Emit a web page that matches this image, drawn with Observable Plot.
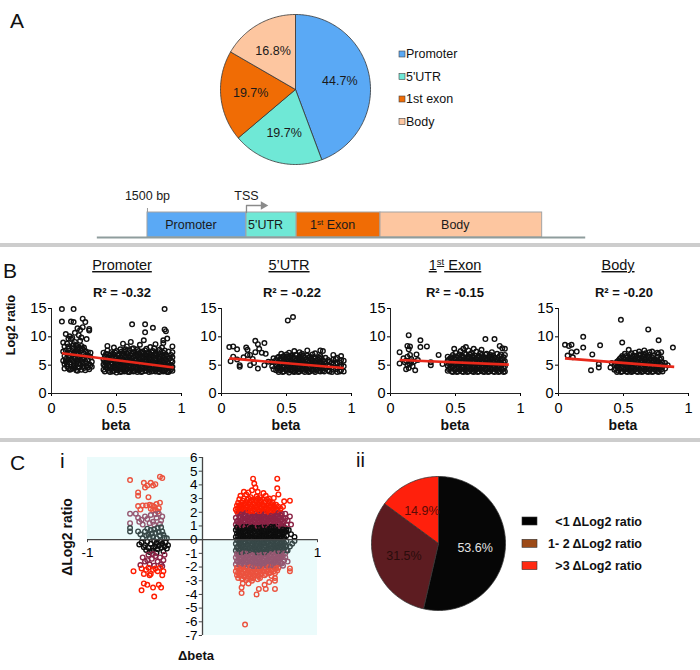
<!DOCTYPE html>
<html><head><meta charset="utf-8">
<script src="https://cdn.jsdelivr.net/npm/d3@7"></script>
<script src="https://cdn.jsdelivr.net/npm/@observablehq/plot@0.6"></script>
<style>
body{margin:0;background:#fff;}
#fig{position:relative;width:700px;height:670px;background:#fff;overflow:hidden;font-family:"Liberation Sans",Arial,Helvetica,sans-serif;}
</style></head><body><div id="fig"></div>
<script>
// ---------------- Panel A: pie of CpG locations ----------------
const regionNames = ["Promoter", "5'UTR", "1st exon", "Body"];
const regionShares = [44.7, 19.7, 19.7, 16.8];
const regionColors = ["#5aa9f5", "#6fe8d6", "#f06c05", "#fdc6a0"];

// ---------------- Gene schematic (bp relative to TSS) ----------------
const geneParts = ["Promoter", "5'UTR", "1st Exon", "Body"];
const geneStartBp = [-1500, 0, 760, 2030];
const geneEndBp = [0, 760, 2030, 4480];
const geneLineBp = [-2260, 5140];
const geneMarkLabels = ["1500 bp", "TSS"];
const geneMarkBp = [-1500, 0];

// ---------------- Panel B: beta vs Log2 ratio ----------------
const panelTitles = ["Promoter", "5’UTR", "1st Exon", "Body"];
const rSquared = ["-0.32", "-0.22", "-0.15", "-0.20"];
const trendBetaStart = [0.08, 0.06, 0.07, 0.05];
const trendLogStart = [7.1, 6.2, 5.9, 6.2];
const trendBetaEnd = [0.94, 0.94, 0.91, 0.89];
const trendLogEnd = [4.6, 4.5, 5.1, 4.7];
const betaTicks = [0, 0.5, 1];
const log2Ticks = [0, 5, 10, 15];

// points as [beta, log2 ratio]; columns as [beta, [log2 ratios...]]
const promoterPoints = [[0.08,14.9],[0.17,14.9],[0.08,12.7],[0.15,12.7],[0.17,12.6],[0.24,13.2],[0.26,12.6],[0.29,11.4],[0.29,11.1],[0.20,11.5],[0.22,11.2],[0.24,11.7],[0.11,10.5],[0.14,10.1],[0.18,10.7],[0.21,10.3],[0.15,9.6],[0.13,9.7],[0.62,12.2],[0.72,12.2],[0.78,11.6],[0.87,14.9],[0.87,11.3],[0.88,11.0],[0.72,10.8],[0.89,9.7],[0.86,9.4],
[0.09,9.0],[0.10,8.3],[0.09,7.4],[0.10,6.6],[0.09,5.8],[0.10,5.2],[0.12,4.8],[0.11,6.1],[0.12,7.0],[0.12,8.8],[0.13,7.9],[0.14,6.4],[0.14,5.5],[0.15,4.3],[0.15,7.3],[0.16,8.4],[0.16,6.8],[0.16,5.9],[0.17,4.9],[0.17,8.0],[0.18,7.4],[0.18,9.1],[0.18,6.2],[0.19,5.3],[0.19,4.1],[0.19,8.5],[0.20,7.8],[0.20,6.9],[0.20,5.8],[0.21,4.6],[0.21,8.2],[0.21,7.2],[0.22,6.5],[0.22,5.1],[0.22,9.3],[0.23,4.2],[0.23,7.6],[0.23,8.4],[0.24,6.1],[0.24,5.4],[0.25,4.5],[0.25,7.0],[0.25,8.1],[0.26,6.6],[0.26,5.7],[0.27,4.8],[0.27,9.6],[0.28,6.0],[0.28,7.3],[0.29,5.2],[0.29,4.3],[0.30,6.4],[0.30,7.2],[0.31,5.6],[0.31,4.7],[0.13,4.4],[0.11,7.6],[0.17,5.6],[0.19,7.0],[0.24,7.9],[0.20,4.0],[0.26,4.1],[0.16,9.8],[0.23,9.9],
[0.10,4.4],[0.11,5.6],[0.13,6.0],[0.14,7.1],[0.15,5.9],[0.17,7.0],[0.18,4.5],[0.18,5.0],[0.20,6.4],[0.21,5.4],[0.22,7.9],[0.23,5.7],[0.24,4.7],[0.25,6.3],[0.26,7.5],[0.27,5.3],[0.28,4.6],[0.28,6.7],[0.30,5.0],[0.13,8.3],[0.17,8.7],[0.19,7.6],[0.21,6.1],[0.16,4.5],[0.12,5.2],[0.14,4.2]];
const promoterColumns = [[0.40,[4.2,5.1,6.0,7.2]],[0.41,[3.9,4.8,5.6,6.6]],[0.43,[4.4,5.3,6.3,7.6,8.4]],[0.45,[3.8,4.7,5.9,6.8]],[0.46,[4.3,5.5,6.4,7.3]],[0.48,[4.0,4.9,5.8,6.9,8.1]],[0.50,[3.7,4.5,5.3,6.2,7.5]],[0.51,[4.1,5.0,5.9,6.7]],[0.53,[3.8,4.6,5.5,6.4,7.8]],[0.55,[4.2,5.1,6.0,7.0,8.8]],[0.56,[3.9,4.7,5.6,6.5,7.4]],[0.58,[4.3,5.2,6.1,7.1,8.3]],[0.60,[3.8,4.6,5.4,6.3,7.6]],[0.61,[4.1,5.0,5.8,6.8,9.1]],[0.63,[3.9,4.7,5.5,6.4,7.3,8.0]],[0.65,[4.3,5.2,6.0,7.0]],[0.66,[3.8,4.6,5.5,6.6,7.8]],[0.68,[4.2,5.0,5.9,6.8,8.6]],[0.70,[3.9,4.8,5.7,6.5,7.4]],[0.71,[4.4,5.3,6.2,7.1,9.4]],[0.73,[4.0,4.9,5.8,6.7,7.9]],[0.75,[3.8,4.6,5.5,6.3,7.2]],[0.76,[4.3,5.1,6.0,6.9,8.2]],[0.78,[4.0,4.8,5.7,6.6,7.5]],[0.80,[3.9,4.5,5.4,6.2,7.1,8.7]],[0.81,[4.2,5.0,5.9,6.8]],[0.83,[3.8,4.7,5.6,6.5,7.7]],[0.85,[4.1,4.9,5.8,6.7,8.1]],[0.86,[3.9,4.6,5.4,6.3,7.2,8.9]],[0.88,[4.3,5.1,6.0,6.9]],[0.90,[3.8,4.5,5.3,7.4]],[0.91,[4.0,4.8,6.2]],[0.93,[4.0,4.7,5.6,6.4,7.3,8.3]],
[0.42,[4.6,5.5,6.5,7.0]],[0.44,[4.0,4.9,5.8,6.2]],[0.47,[3.9,4.6,5.2,6.1,7.0]],[0.49,[4.4,5.4,6.4,7.2]],[0.52,[4.3,5.0,5.7,6.9]],[0.54,[3.9,4.8,5.8,6.7,7.4]],[0.57,[4.0,4.4,5.4,6.3,7.8]],[0.59,[3.8,4.8,5.7,6.6,7.3]],[0.62,[4.4,5.2,6.1,7.0,7.9]],[0.64,[4.0,5.0,5.9,6.8]],[0.67,[4.1,5.1,6.1,7.1,7.5]],[0.69,[3.8,4.6,5.5,6.3,7.2]],[0.72,[4.0,4.8,5.7,6.5,7.6]],[0.74,[4.4,5.3,6.2,7.0]],[0.77,[3.9,4.7,5.6,6.4,7.3]],[0.79,[4.3,5.2,6.0,6.9,8.0]],[0.82,[3.9,4.6,5.5,6.3,7.3]],[0.84,[4.3,5.2,6.1,7.0]],[0.87,[4.1,5.0,5.9,6.7,7.6]],[0.89,[3.8,4.7,5.6,6.5]],[0.92,[4.3,5.0,5.8,6.8]]];

const utrPoints = [[0.06,8.2],[0.09,8.3],[0.12,7.8],[0.19,8.1],[0.20,7.7],[0.20,6.8],[0.22,6.8],[0.14,5.0],[0.22,5.0],[0.26,7.3],[0.26,9.3],[0.28,8.7],[0.33,8.9],[0.29,7.9],[0.31,7.2],[0.34,7.0],[0.09,6.5],[0.07,5.7],[0.17,6.4],[0.25,5.4],[0.28,4.4],[0.33,5.0],[0.14,4.7],[0.51,12.9],[0.55,13.5],[0.24,6.1],[0.12,6.0],[0.36,5.6],[0.39,4.8],[0.39,5.6],[0.40,4.3],[0.40,6.2]];
const utrColumns = [[0.42,[4.1,5.0,5.9]],[0.44,[3.8,4.6,5.5,6.5]],[0.46,[4.3,5.2,6.1,7.0]],[0.48,[3.9,4.8,5.7,6.6]],[0.50,[4.2,5.0,5.9,6.9]],[0.52,[3.7,4.6,5.4,6.3,7.2]],[0.54,[4.1,4.9,5.8,6.7]],[0.56,[3.8,4.5,5.3,6.2,7.5]],[0.58,[4.2,5.1,6.0,6.8]],[0.60,[3.9,4.7,5.5,6.4,7.3]],[0.62,[4.3,5.2,6.1,7.0]],[0.64,[3.8,4.6,5.4,6.3]],[0.66,[4.1,5.0,5.8,6.7,7.6]],[0.68,[3.9,4.7,5.6,6.5]],[0.70,[4.2,5.1,5.9,6.9]],[0.72,[3.8,4.6,5.4,6.2,7.1]],[0.74,[4.3,5.2,6.0]],[0.76,[3.9,4.8,5.7,6.6,7.6]],[0.78,[4.1,5.0,5.8,7.5]],[0.80,[4.4,5.3,6.3]],[0.83,[3.9,4.8,5.6]],[0.86,[4.2,5.1,6.0,6.8]],[0.89,[3.8,4.6,5.4,6.3]],[0.92,[4.1,5.0,5.9,6.6]],[0.94,[3.9,4.8,5.8]],
[0.43,[4.5,5.4,6.3]],[0.45,[4.1,5.0,6.0]],[0.47,[3.8,4.7,5.6,6.5]],[0.49,[4.3,5.3,6.2]],[0.51,[4.0,4.8,5.6,6.5]],[0.53,[4.2,5.0,5.9,6.7]],[0.55,[3.9,4.7,5.5,6.4]],[0.57,[4.1,4.9,5.8,6.8]],[0.59,[3.8,4.6,5.5,6.3]],[0.61,[4.2,5.1,6.0,6.8]],[0.63,[4.0,4.8,5.7,6.6]],[0.65,[4.3,5.1,6.0]],[0.67,[3.8,4.6,5.4,6.3]],[0.69,[4.2,5.1,6.1]],[0.71,[4.0,4.8,5.6,6.4]],[0.73,[4.2,5.0,5.8]],[0.75,[4.0,4.8,5.6,6.3]],[0.77,[4.4,5.3,6.2]],[0.79,[3.9,4.7,5.6]],[0.82,[4.1,5.0,5.9]],[0.85,[3.8,4.6,5.5]],[0.88,[4.3,5.2,6.1]],[0.91,[3.9,4.7,5.5]]];

const exonPoints = [[0.07,7.3],[0.07,5.3],[0.14,10.3],[0.13,8.4],[0.15,8.3],[0.14,7.8],[0.23,9.4],[0.23,8.2],[0.28,8.3],[0.19,4.1],[0.12,5.8],[0.14,4.5],[0.15,5.2],[0.16,6.1],[0.13,6.5],[0.17,4.8],[0.12,4.3],[0.18,5.6],[0.20,6.9],[0.10,6.2],[0.16,5.7],[0.13,5.0],[0.15,6.8],[0.21,5.9],[0.11,5.5],[0.73,9.6],[0.80,9.6],[0.84,8.4],[0.86,8.0],[0.49,7.9],[0.58,8.2],[0.64,7.9],[0.37,6.8],[0.31,5.0],[0.31,5.5],[0.40,5.2]];
const exonColumns = [[0.44,[4.0,4.9,5.8,6.5]],[0.46,[4.4,5.3,6.2]],[0.48,[3.8,4.7,5.6,6.8]],[0.50,[4.2,5.1,6.0,7.2]],[0.52,[3.9,4.8,5.7,6.6]],[0.54,[4.3,5.2,6.1,7.5]],[0.56,[3.8,4.6,5.5,6.4,7.9]],[0.58,[4.1,5.0,5.9,6.9]],[0.60,[3.9,4.7,5.6,6.5,7.6]],[0.62,[4.2,5.1,6.0,7.1]],[0.64,[3.8,4.6,5.4,6.3]],[0.66,[4.3,5.2,6.1,7.4]],[0.68,[3.9,4.8,5.7,6.6]],[0.70,[4.1,5.0,5.8,6.8,7.7]],[0.72,[3.8,4.7,5.5,6.4]],[0.74,[4.2,5.1,6.0,7.0]],[0.76,[3.9,4.8,5.6,6.5]],[0.78,[4.3,5.2,6.2,7.3]],[0.80,[3.8,4.6,5.4,6.3]],[0.82,[4.1,5.0,5.9,7.0]],[0.84,[3.9,4.7,5.6,6.6]],[0.86,[4.2,5.1,6.1]],[0.88,[3.9,4.8,5.7,6.8,7.9]],
[0.45,[4.3,5.2,6.0]],[0.47,[3.9,4.8,5.7,6.4]],[0.49,[4.3,5.2,6.2]],[0.51,[3.8,4.6,5.5,6.4]],[0.53,[4.2,5.1,6.0,6.9]],[0.55,[3.9,4.8,5.7,6.6]],[0.57,[4.3,5.2,6.1,7.1]],[0.59,[3.8,4.6,5.4,6.3]],[0.61,[4.3,5.2,6.1,6.9]],[0.63,[3.9,4.8,5.7,6.6]],[0.65,[4.1,5.0,5.8,6.7]],[0.67,[3.8,4.6,5.5,6.4]],[0.69,[4.3,5.2,6.1,7.1]],[0.71,[3.9,4.7,5.5,6.3]],[0.73,[4.3,5.2,6.1,6.9]],[0.75,[3.8,4.6,5.5,6.4]],[0.77,[4.2,5.1,6.0,6.8]],[0.79,[3.9,4.8,5.7,6.7]],[0.81,[4.3,5.2,6.1]],[0.83,[3.8,4.6,5.4,6.3]],[0.85,[4.3,5.2,6.0,6.9]],[0.87,[3.8,4.6,5.5,6.4]]];

const bodyPoints = [[0.05,8.6],[0.08,8.4],[0.10,8.6],[0.10,7.3],[0.14,7.4],[0.07,6.7],[0.11,6.4],[0.19,10.0],[0.19,8.1],[0.26,6.9],[0.32,8.5],[0.25,4.1],[0.31,5.2],[0.31,4.6],[0.48,13.0],[0.49,9.0],[0.69,11.3],[0.77,9.4],[0.88,8.1],[0.54,7.7],[0.62,7.4],[0.66,7.6],[0.70,7.3],[0.72,7.4],[0.76,7.2],[0.79,7.3],[0.84,5.0],[0.40,4.6],[0.41,5.4]];
const bodyColumns = [[0.43,[4.2,5.0]],[0.45,[3.8,4.7,5.6]],[0.47,[4.3,5.2,6.1]],[0.49,[3.9,4.8,5.7,6.6]],[0.51,[4.2,5.1,6.0,7.0]],[0.53,[3.8,4.6,5.5,6.4]],[0.55,[4.1,5.0,5.9,6.8]],[0.57,[3.9,4.7,5.6,6.5]],[0.59,[4.3,5.2,6.1,7.2]],[0.61,[3.8,4.6,5.5,6.3]],[0.63,[4.1,5.0,5.8,6.9]],[0.65,[3.9,4.8,5.7,6.6]],[0.67,[4.2,5.1,6.0,7.1]],[0.69,[3.8,4.7,5.5,6.4]],[0.71,[4.3,5.2,6.1]],[0.73,[3.9,4.8,5.7,6.7]],[0.75,[4.1,5.0,5.9]],[0.77,[3.8,4.6,5.6,7.0]],[0.79,[4.2,5.1,6.2]],[0.82,[4.4,5.4]],
[0.44,[4.4,5.3]],[0.46,[4.0,4.9,5.8]],[0.48,[3.8,4.6,5.5,6.3]],[0.50,[4.4,5.3,6.2]],[0.52,[3.9,4.8,5.7,6.6]],[0.54,[4.3,5.2,6.1]],[0.56,[3.8,4.6,5.4,6.3,7.1]],[0.58,[4.1,5.0,5.9,6.7]],[0.60,[3.9,4.8,5.7,6.6]],[0.62,[4.3,5.2,6.1,6.9]],[0.64,[3.8,4.6,5.4,6.3]],[0.66,[4.2,5.1,6.0,6.8]],[0.68,[3.9,4.8,5.7,6.6]],[0.70,[4.2,5.0,5.9,6.8]],[0.72,[3.8,4.6,5.5,6.4]],[0.74,[4.3,5.2,6.1]],[0.76,[3.9,4.8,5.7,6.5]],[0.78,[4.3,5.2,6.0]],[0.80,[3.9,4.7,5.5]]];

// ---------------- Panel C i: delta beta vs delta Log2 ratio ----------------
const dLogTicks = [-7,-6,-5,-4,-3,-2,-1,0,1,2,3,4,5,6];
const dBetaTicks = [-1, 1];
const bandNames = ["<1", "1-2", ">2"];
const bandColors = ["#0e0e0e", "#8c2446", "#ff1c00"];
const ciLeftPoints = [[-0.63,4.35],[-0.51,4.15],[-0.48,3.95],[-0.45,4.15],[-0.43,3.95],[-0.41,4.05],[-0.37,4.6],[-0.35,4.5],[-0.50,3.8],[-0.56,3.45],[-0.56,3.2],[-0.47,3.1],
[-0.56,2.45],[-0.52,2.5],[-0.49,2.5],[-0.46,2.55],[-0.44,2.5],[-0.42,2.4],[-0.40,2.6],[-0.38,2.3],[-0.41,2.2],[-0.43,2.15],[-0.37,2.7],[-0.54,2.2],[-0.39,2.05],[-0.45,2.25],
[-0.63,1.9],[-0.63,1.2],[-0.56,1.6],[-0.55,1.3],[-0.50,1.7],[-0.48,1.5],[-0.45,1.8],[-0.43,1.3],[-0.40,1.6],[-0.38,1.9],[-0.36,1.4],[-0.42,1.1],[-0.52,1.1],[-0.46,1.2],[-0.35,1.7],[-0.58,1.9],[-0.37,1.15],[-0.41,1.85],[-0.53,1.45],
[-0.63,0.85],[-0.63,0.6],[-0.56,0.6],[-0.50,0.6],[-0.47,0.35],[-0.45,0.7],[-0.43,0.2],[-0.41,0.5],[-0.39,0.85],[-0.37,0.3],[-0.35,0.6],[-0.33,0.15],[-0.40,0.1],[-0.46,0.15],[-0.49,0.3],[-0.36,0.9],[-0.38,0.55],[-0.42,0.75],[-0.52,0.1],[-0.44,0.45],[-0.34,0.35],[-0.31,0.1],[-0.48,0.8],[-0.54,0.4],
[-0.53,-0.2],[-0.50,-0.4],[-0.48,-0.15],[-0.47,-0.6],[-0.45,-0.3],[-0.44,-0.8],[-0.42,-0.1],[-0.41,-0.5],[-0.40,-0.25],[-0.39,-0.7],[-0.38,-0.45],[-0.37,-0.1],[-0.36,-0.6],[-0.35,-0.3],[-0.34,-0.85],[-0.33,-0.5],[-0.32,-0.2],[-0.43,-0.6],[-0.46,-0.9],[-0.49,-0.75],[-0.51,-0.55],[-0.55,-0.35],[-0.31,-0.65],[-0.30,-0.4],[-0.40,-0.95],[-0.36,-0.15],
[-0.52,-1.3],[-0.50,-1.6],[-0.47,-1.1],[-0.46,-1.8],[-0.44,-1.4],[-0.42,-1.9],[-0.41,-1.2],[-0.39,-1.6],[-0.37,-1.3],[-0.36,-1.8],[-0.34,-1.5],[-0.33,-1.1],[-0.48,-1.5],[-0.54,-1.85],[-0.43,-1.05],[-0.35,-1.95],
[-0.60,-2.3],[-0.53,-2.1],[-0.51,-2.5],[-0.49,-2.2],[-0.47,-2.05],[-0.45,-2.5],[-0.43,-2.2],[-0.41,-2.1],[-0.39,-2.3],[-0.37,-2.05],[-0.35,-2.6],[-0.34,-2.3],[-0.48,-3.3],[-0.51,-3.2],[-0.53,-3.7],[-0.43,-3.5],[-0.38,-3.3],[-0.36,-3.5],[-0.42,-4.15],[-0.46,-2.6]];
const ciRightColumns = [[0.29,[2.2,1.6,1.1,0.7,0.2,-0.3,-0.8,-1.3,-1.8,-2.3]],[0.31,[2.7,2.3,1.9,1.4,1.0,0.6,0.25,-0.1,-0.5,-0.9,-1.2,-1.6,-2.0,-2.4,-2.8]],[0.33,[2.5,2.05,1.65,1.25,0.85,0.45,0.1,-0.25,-0.65,-1.05,-1.45,-1.85,-2.2,-2.6]],[0.35,[2.85,2.4,2.0,1.55,1.15,0.75,0.35,0.05,-0.4,-0.8,-1.2,-1.6,-2.05,-2.45,-2.9]],[0.37,[2.6,2.2,1.8,1.4,1.0,0.6,0.2,-0.2,-0.6,-1.0,-1.4,-1.8,-2.25,-2.65]],[0.39,[2.9,2.45,2.05,1.6,1.2,0.8,0.4,0.1,-0.35,-0.75,-1.15,-1.55,-1.95,-2.4,-2.8]],[0.41,[2.7,2.25,1.85,1.45,1.05,0.65,0.25,-0.15,-0.55,-0.95,-1.35,-1.75,-2.15,-2.55]],[0.43,[2.85,2.4,2.0,1.6,1.2,0.8,0.4,0.05,-0.3,-0.7,-1.1,-1.5,-1.9,-2.3,-2.75]],[0.45,[2.6,2.2,1.75,1.35,0.95,0.55,0.15,-0.2,-0.6,-1.0,-1.4,-1.8,-2.2,-2.6]],[0.47,[2.8,2.35,1.95,1.55,1.15,0.75,0.35,0.05,-0.4,-0.8,-1.2,-1.6,-2.0,-2.45]],[0.49,[2.55,2.15,1.7,1.3,0.9,0.5,0.15,-0.25,-0.65,-1.05,-1.45,-1.85,-2.25,-2.7]],[0.51,[2.75,2.3,1.9,1.5,1.1,0.7,0.3,-0.1,-0.5,-0.9,-1.3,-1.7,-2.1,-2.5]],[0.53,[2.5,2.1,1.65,1.25,0.85,0.45,0.1,-0.3,-0.7,-1.1,-1.5,-1.9,-2.35]],[0.55,[2.8,2.35,1.95,1.55,1.15,0.75,0.35,0.05,-0.45,-0.85,-1.25,-1.65,-2.05,-2.5]],[0.57,[2.6,2.2,1.8,1.4,1.0,0.6,0.2,-0.2,-0.6,-1.0,-1.4,-1.8,-2.2]],[0.59,[2.45,2.05,1.65,1.25,0.85,0.45,0.1,-0.35,-0.75,-1.15,-1.55,-1.95,-2.4]],[0.61,[2.7,2.25,1.85,1.45,1.05,0.65,0.25,-0.15,-0.55,-0.95,-1.35,-1.75,-2.15]],[0.63,[2.35,1.95,1.55,1.15,0.75,0.35,0.05,-0.4,-0.8,-1.2,-1.6,-2.0,-2.45,-2.8]],[0.65,[2.2,1.8,1.4,1.0,0.6,0.2,-0.2,-0.6,-1.0,-1.4,-1.85,-2.25]],[0.67,[2.0,1.6,1.2,0.8,0.4,0.1,-0.3,-0.7,-1.1,-1.5]],[0.69,[1.9,1.45,1.05,0.65,0.25,-0.15,-0.55,-0.9,-1.3,-1.75]],[0.71,[1.3,0.9,0.5,0.15,-0.25,-0.65,-1.5]],[0.73,[1.1,0.7,0.3,-0.1,-0.45,-0.8]],
[0.30,[2.5,2.05,1.35,0.9,0.45,0.0,-0.55,-1.05,-1.55,-2.05,-2.6]],[0.32,[2.95,2.5,2.1,1.7,1.25,0.8,0.45,0.05,-0.35,-0.75,-1.1,-1.45,-1.85,-2.2,-2.6]],[0.34,[2.7,2.25,1.85,1.45,1.05,0.65,0.25,-0.15,-0.5,-0.95,-1.3,-1.7,-2.1,-2.5,-2.85]],[0.36,[3.0,2.6,2.2,1.8,1.35,0.95,0.55,0.15,-0.2,-0.6,-1.0,-1.4,-1.8,-2.2,-2.7]],[0.38,[2.75,2.35,1.95,1.55,1.1,0.7,0.3,0.0,-0.45,-0.85,-1.25,-1.65,-2.05,-2.5,-2.95]],[0.40,[3.0,2.6,2.15,1.75,1.35,0.95,0.55,0.15,-0.25,-0.65,-1.05,-1.45,-1.85,-2.3,-2.7]],[0.42,[2.85,2.45,2.05,1.65,1.25,0.85,0.45,0.05,-0.4,-0.8,-1.2,-1.6,-2.0,-2.4,-2.85]],[0.44,[2.95,2.55,2.1,1.7,1.3,0.9,0.5,0.1,-0.3,-0.7,-1.1,-1.5,-1.95,-2.35,-2.8]],[0.46,[2.9,2.45,2.05,1.65,1.25,0.85,0.45,0.05,-0.35,-0.75,-1.15,-1.55,-1.95,-2.4]],[0.48,[3.0,2.6,2.2,1.8,1.4,1.0,0.6,0.2,-0.15,-0.55,-0.95,-1.35,-1.75,-2.15,-2.6]],[0.50,[2.9,2.45,2.05,1.65,1.25,0.85,0.45,0.05,-0.35,-0.75,-1.15,-1.55,-1.95,-2.35,-2.8]],[0.52,[2.95,2.55,2.15,1.7,1.3,0.9,0.5,0.1,-0.3,-0.7,-1.1,-1.5,-1.9,-2.3]],[0.54,[2.7,2.3,1.85,1.45,1.05,0.65,0.25,-0.15,-0.55,-0.95,-1.35,-1.75,-2.15,-2.6]],[0.56,[2.95,2.5,2.1,1.7,1.3,0.9,0.5,0.1,-0.3,-0.7,-1.1,-1.5,-1.9,-2.35]],[0.58,[2.8,2.4,2.0,1.6,1.2,0.8,0.4,0.0,-0.4,-0.8,-1.2,-1.6,-2.0,-2.45]],[0.60,[2.6,2.15,1.75,1.35,0.95,0.55,0.15,-0.25,-0.65,-1.05,-1.45,-1.85,-2.25,-2.65]],[0.62,[2.5,2.1,1.7,1.3,0.9,0.5,0.1,-0.3,-0.7,-1.1,-1.5,-1.9,-2.3]],[0.64,[2.55,2.15,1.75,1.35,0.95,0.55,0.15,-0.2,-0.6,-1.0,-1.4,-1.8,-2.1]],[0.66,[2.4,1.95,1.55,1.15,0.75,0.35,-0.05,-0.45,-0.85,-1.25,-1.65,-2.05]],[0.68,[2.25,1.8,1.4,1.0,0.6,0.2,-0.2,-0.6,-1.0,-1.35,-1.7]],[0.70,[1.6,1.15,0.75,0.4,0.0,-0.4,-0.75,-1.15]],[0.72,[1.55,0.6,-0.5,-1.0]]];
const ciRightPoints = [[0.44,4.45],[0.65,4.45],[0.45,4.1],[0.46,3.8],[0.43,3.6],[0.40,3.45],[0.38,3.3],[0.48,3.5],[0.53,3.4],[0.65,3.75],[0.66,3.3],[0.36,3.5],[0.50,3.1],[0.58,3.0],[0.71,2.8],[0.76,2.85],[0.33,3.2],[0.42,3.1],[0.47,3.15],[0.55,3.2],[0.62,3.05],[0.70,2.4],[0.74,1.4],[0.77,1.1],[0.76,1.7],[0.72,1.9],[0.77,0.4],[0.80,0.2],[0.75,0.7],[0.78,-0.3],[0.80,-0.1],[0.74,-0.8],[0.76,-0.5],[0.72,-1.3],[0.74,-1.6],[0.70,-1.9],[0.76,-2.1],[0.76,-2.3],[0.35,-3.2],[0.34,-3.5],[0.34,-3.9],[0.47,-4.0],[0.49,-3.6],[0.54,-3.3],[0.55,-3.6],[0.63,-3.0],[0.63,-3.6],[0.43,-3.0],[0.48,-2.9],[0.40,-3.2],[0.37,-6.2],[0.58,-3.1]];

// ---------------- Panel C ii ----------------
const changeNames = ["<1 ΔLog2 ratio", "1- 2 ΔLog2 ratio", ">3 ΔLog2 ratio"];
const changeShares = [53.6, 31.5, 14.9];
const changePieColors = ["#060606", "#5d1c21", "#ff200c"];
const changeLegendColors = ["#000000", "#9c4a17", "#ff2a12"];

// ================= rendering =================
const fig = document.getElementById("fig");
const FONT = '"Liberation Sans", Arial, Helvetica, sans-serif';
function place(svg, left, top) {
  Object.assign(svg.style, {position: "absolute", left: left + "px", top: top + "px", background: "transparent", overflow: "visible", maxWidth: "none"});
  fig.appendChild(svg);
  return svg;
}
const expand = cols => cols.flatMap(([b, vs]) => vs.map(v => [b, v]));

function pieGeometry(names, values, labelRadius) {
  const arcs = d3.pie().sort(null).value(d => d)(values);
  const outline = [], labels = [];
  arcs.forEach((a, i) => {
    const n = Math.max(4, Math.ceil((a.endAngle - a.startAngle) / 0.02));
    outline.push({name: names[i], x: 0, y: 0});
    for (let k = 0; k <= n; k++) {
      const t = a.startAngle + (a.endAngle - a.startAngle) * k / n;
      outline.push({name: names[i], x: Math.sin(t), y: Math.cos(t)});
    }
    outline.push({name: names[i], x: 0, y: 0});
    const m = (a.startAngle + a.endAngle) / 2;
    labels.push({x: labelRadius * Math.sin(m), y: labelRadius * Math.cos(m), text: values[i].toFixed(1) + "%"});
  });
  return {outline, labels};
}
function piePlot(names, values, colors, size, labelRadius, labelColors, fontSize) {
  const g = pieGeometry(names, values, labelRadius);
  return Plot.plot({
    width: size, height: size, margin: 5,
    style: {fontFamily: FONT},
    x: {domain: [-1, 1], axis: null}, y: {domain: [-1, 1], axis: null},
    color: {domain: names, range: colors},
    marks: [
      Plot.line(g.outline, {x: "x", y: "y", z: "name", fill: "name", stroke: "#333", strokeWidth: 0.8}),
      ...g.labels.map((l, i) => Plot.text([l], {x: "x", y: "y", text: "text", fill: labelColors[i], fontSize}))
    ]
  });
}

// Panel A pie
place(piePlot(regionNames, regionShares, regionColors, 160, 0.6, regionColors.map(() => "#1a1a1a"), 12.5), 215, 9);

// Gene schematic
const gene = geneParts.map((name, i) => ({name, start: geneStartBp[i], end: geneEndBp[i]}));
const geneSvg = Plot.plot({
  width: 700, height: 65, margin: 0,
  style: {fontFamily: FONT},
  x: {domain: [-3727, 6879], range: [0, 700], axis: null},
  y: {domain: [0, 1], range: [57, 32], axis: null},
  color: {domain: geneParts, range: regionColors},
  marks: [
    Plot.rect(gene, {x1: "start", x2: "end", y1: 0, y2: 1, fill: "name", stroke: "#a3a3a3", strokeWidth: 1}),
    Plot.ruleY([0], {x1: geneLineBp[0], x2: geneLineBp[1], stroke: "#8f9d9d", strokeWidth: 2.2}),
    Plot.ruleX([geneMarkBp[0]], {y1: 1, y2: 1.16, stroke: "#9a9a9a"}),
    Plot.line([[geneMarkBp[1], 1], [geneMarkBp[1], 1.28], [255, 1.28]], {stroke: "#8a8a8a", strokeWidth: 1.3}),
    Plot.dot([[255, 1.28]], {symbol: "triangle", rotate: 90, r: 3.2, fill: "#8a8a8a", stroke: "none"}),
    Plot.text(gene, {x: d => (d.start + d.end) / 2, y: 0.5, dx: -6, text: "name", fontSize: 12.5, fill: "#1a1a1a"}),
    Plot.text(geneMarkLabels, {x: (d, i) => geneMarkBp[i], y: 1.66, text: d => d, fontSize: 12.5, fill: "#1a1a1a"})
  ]
});
d3.select(geneSvg).selectAll("text").filter(function() { return this.textContent === "1st Exon"; })
  .html('1<tspan dy="-4" font-size="8">st</tspan><tspan dy="4"> Exon</tspan>');
place(geneSvg, 0, 180);

// Panel B scatter plots
const panelPoints = [
  promoterPoints.concat(expand(promoterColumns)),
  utrPoints.concat(expand(utrColumns)),
  exonPoints.concat(expand(exonColumns)),
  bodyPoints.concat(expand(bodyColumns))
];
const panelX0 = [51, 221, 390, 558];
panelPoints.forEach((pts, i) => {
  const svg = Plot.plot({
    width: 180, height: 130, marginLeft: 40, marginRight: 10, marginTop: 8, marginBottom: 37,
    style: {fontFamily: FONT, fontSize: "14.5px", color: "#000"},
    x: {domain: [0, 1], ticks: betaTicks, tickFormat: d => String(d), tickSize: 3, tickPadding: 6, label: null},
    y: {domain: [0, 15], ticks: log2Ticks, tickFormat: d => String(d), tickSize: 3, tickPadding: 2, label: null},
    marks: [
      Plot.ruleX([0], {stroke: "#222"}),
      Plot.ruleY([0], {stroke: "#222"}),
      Plot.dot(pts, {x: d => d[0], y: d => d[1], r: 2.3, stroke: "#111", strokeWidth: 1.4, fill: "none"}),
      Plot.link([0], {x1: trendBetaStart[i], y1: trendLogStart[i], x2: trendBetaEnd[i], y2: trendLogEnd[i], stroke: "#e8281a", strokeWidth: 2.6})
    ]
  });
  place(svg, panelX0[i] - 40, 300);
});

// Panel C i
const ciPoints = ciLeftPoints.concat(expand(ciRightColumns), ciRightPoints);
const band = v => Math.abs(v) < 1 ? "<1" : Math.abs(v) < 2 ? "1-2" : ">2";
const ciQuadrants = [{x1: -1, x2: 0, y1: 0, y2: 6}, {x1: 0, x2: 1, y1: -7, y2: 0}];
const ciSvg = Plot.plot({
  width: 350, height: 230, marginLeft: 87, marginRight: 33, marginTop: 17, marginBottom: 35,
  style: {fontFamily: FONT, color: "#000"},
  x: {domain: [-1, 1], axis: null}, y: {domain: [-7, 6], axis: null},
  color: {domain: bandNames, range: bandColors},
  marks: [
    Plot.dot(ciPoints, {x: d => d[0], y: d => d[1], r: 2.3, stroke: d => band(d[1]), strokeWidth: 1.4, fill: "none"}),
    Plot.rect(ciQuadrants, {x1: "x1", x2: "x2", y1: "y1", y2: "y2", fill: "#b0f0f0", fillOpacity: 0.26}),
    Plot.ruleY([0], {x1: -1, x2: 1, stroke: "#444", strokeWidth: 1.3}),
    Plot.ruleX([0], {y1: -7, y2: 6, stroke: "#444", strokeWidth: 1.3}),
    Plot.ruleY(dLogTicks, {y: d => d, x1: -0.028, x2: 0, stroke: "#444"}),
    Plot.ruleX(dBetaTicks, {x: d => d, y1: 0, y2: -0.22, stroke: "#444"}),
    Plot.text(dLogTicks, {x: 0, y: d => d, dx: -5, textAnchor: "end", text: d => String(d), fontSize: 13.5}),
    Plot.text(dBetaTicks, {x: d => d, y: 0, dy: 13, text: d => String(d), fontSize: 13.5})
  ]
});
place(ciSvg, 0, 440);

// Panel C ii pie
place(piePlot(changeNames, changeShares, changePieColors, 144, 0.55, ["#e2e2e2", "#2a0c0c", "#5c0b05"], 12.5), 366, 471);

// ---------- annotation layer (panel letters, titles, legends, separators) ----------
const titleX = [122, 289, 455, 618];
const rX = [122, 292, 455, 624];
let ov = `<rect x="0" y="243" width="700" height="4" fill="#cdcdcd"/><rect x="0" y="438" width="700" height="4" fill="#cdcdcd"/>`;
ov += `<text x="10" y="28" font-size="21">A</text><text x="3" y="278" font-size="21">B</text><text x="10" y="470" font-size="21">C</text><text x="60" y="468" font-size="21">i</text><text x="356" y="467" font-size="20">ii</text>`;
regionNames.forEach((n, i) => {
  const c = 54 + i * 22.5;
  ov += `<rect x="399" y="${c - 3}" width="6" height="6" fill="${regionColors[i]}" stroke="#444" stroke-width="0.6"/>`;
  ov += `<text x="406" y="${c + 4.4}" font-size="12.5">${n}</text>`;
});
panelTitles.forEach((t, i) => {
  const label = t === "1st Exon" ? '1<tspan dy="-5" font-size="9.5">st</tspan><tspan dy="5"> Exon</tspan>' : t;
  ov += `<text x="${titleX[i]}" y="270" font-size="14.5" text-anchor="middle" style="text-decoration:underline">${label}</text>`;
  ov += `<text x="${rX[i]}" y="296.5" font-size="13" font-weight="bold" text-anchor="middle">R² = ${rSquared[i]}</text>`;
  ov += `<text x="${panelX0[i] + 65}" y="430" font-size="14" font-weight="bold" text-anchor="middle">beta</text>`;
});
ov += `<text transform="translate(15,325) rotate(-90)" font-size="12.5" font-weight="bold" text-anchor="middle">Log2 ratio</text>`;
ov += `<text transform="translate(72,537) rotate(-90)" font-size="14" font-weight="bold" text-anchor="middle">ΔLog2 ratio</text>`;
ov += `<text x="196" y="660" font-size="13" font-weight="bold" text-anchor="middle">Δbeta</text>`;
changeNames.forEach((n, i) => {
  const c = 521 + i * 22.3;
  ov += `<rect x="522" y="${c - 4}" width="15" height="8" fill="${changeLegendColors[i]}" stroke="#333" stroke-width="0.6"/>`;
  ov += `<text x="642" y="${c + 4.5}" font-size="12.5" font-weight="bold" text-anchor="end">${n.replace("<", "&lt;").replace(">", "&gt;")}</text>`;
});
fig.insertAdjacentHTML("beforeend", `<svg width="700" height="670" style="position:absolute;left:0;top:0;pointer-events:none" font-family='${FONT}' fill="#111">${ov}</svg>`);
</script></body></html>
